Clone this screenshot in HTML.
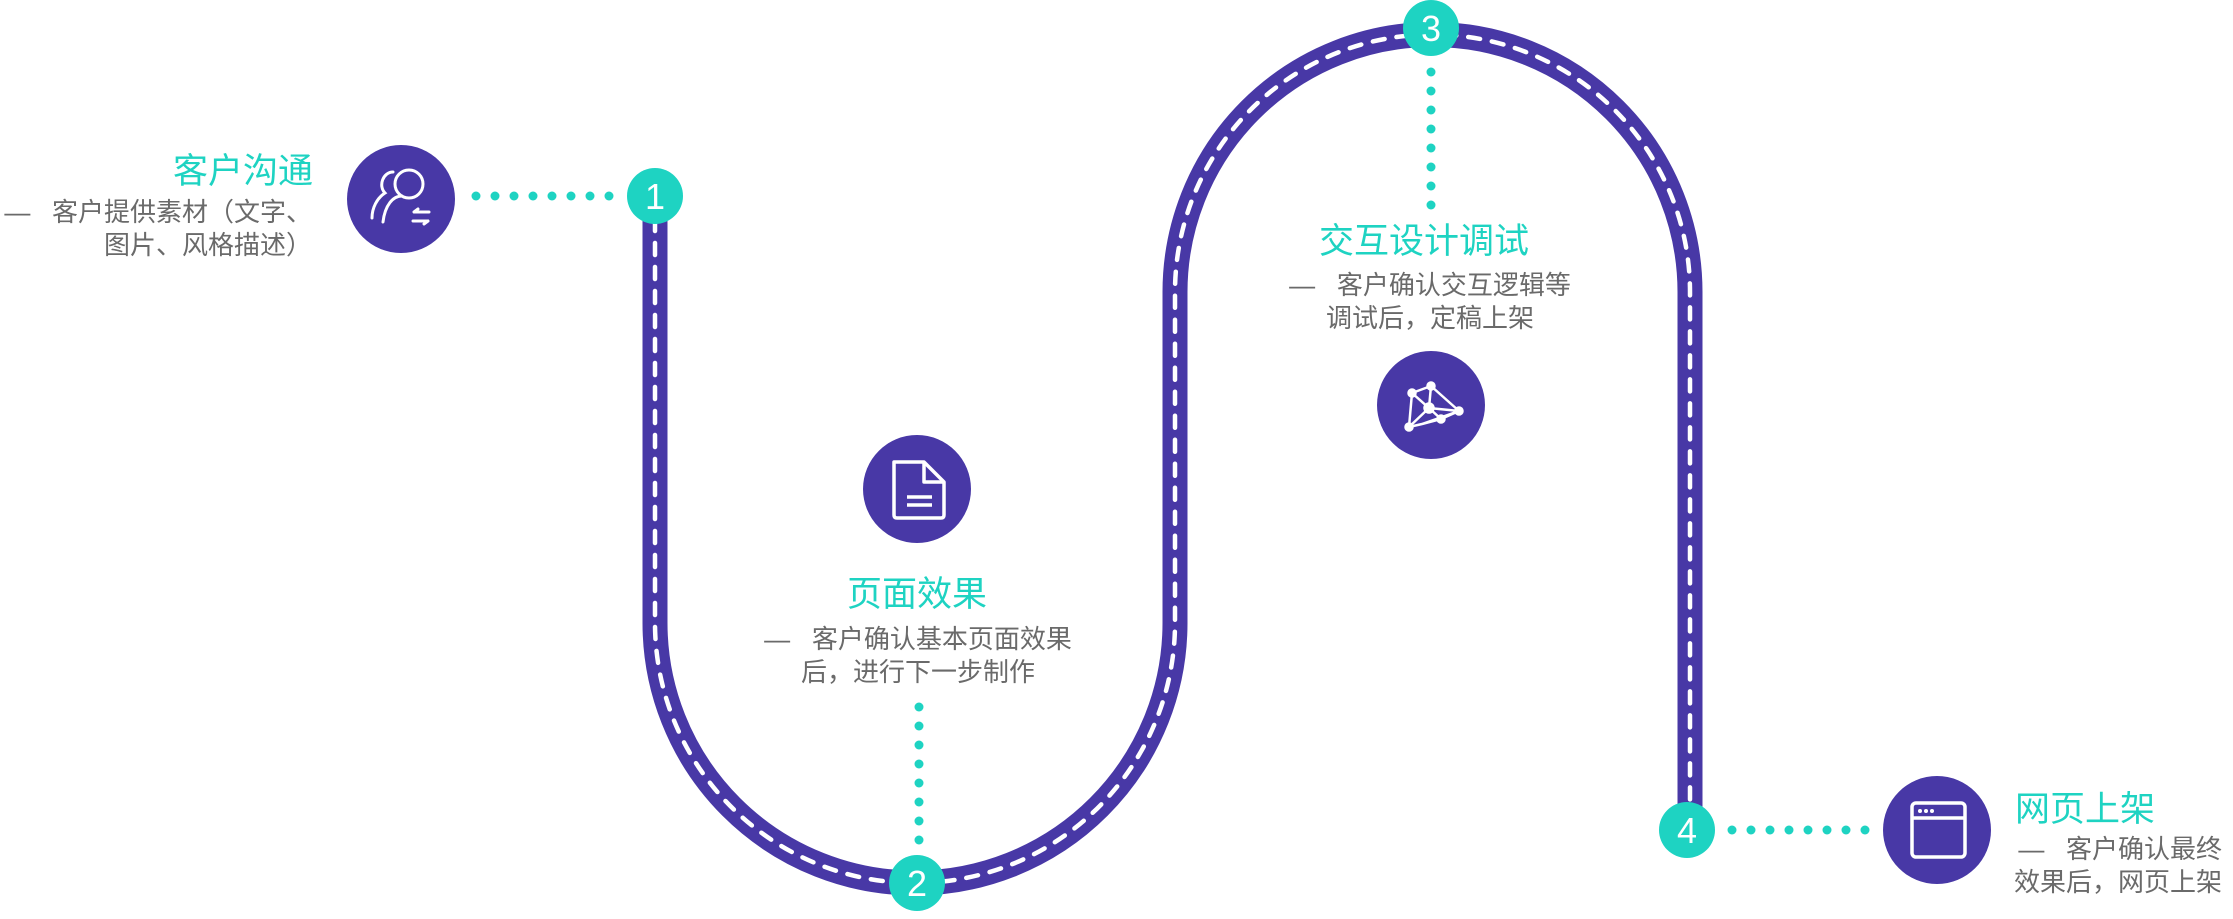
<!DOCTYPE html>
<html><head><meta charset="utf-8">
<style>
html,body{margin:0;padding:0;background:#fff;}
body{width:2233px;height:919px;position:relative;overflow:hidden;font-family:"Liberation Sans","Noto Sans CJK SC",sans-serif;}
.t{position:absolute;color:#1ed3c2;font-size:35px;line-height:40px;white-space:nowrap;}
.s{position:absolute;color:#6a6a6a;font-size:26px;line-height:33px;white-space:nowrap;}
svg{position:absolute;left:0;top:0;}
</style></head><body>
<svg width="2233" height="919" viewBox="0 0 2233 919">
  <path d="M655,195 L655,623 A260,260 0 0 0 1175,623 L1175,292 A257.5,257.5 0 0 1 1690,292 L1690,830" fill="none" stroke="#4838a6" stroke-width="25"/>
  <path d="M655,195 L655,623 A260,260 0 0 0 1175,623 L1175,292 A257.5,257.5 0 0 1 1690,292 L1690,830" fill="none" stroke="#fff" stroke-width="4.5" stroke-dasharray="12 12" stroke-linecap="round"/>
  <g fill="#1ed3c2">
    <circle cx="476" cy="196" r="4.5"/><circle cx="495" cy="196" r="4.5"/><circle cx="514" cy="196" r="4.5"/><circle cx="533" cy="196" r="4.5"/><circle cx="552" cy="196" r="4.5"/><circle cx="571" cy="196" r="4.5"/><circle cx="590" cy="196" r="4.5"/><circle cx="609" cy="196" r="4.5"/>
    <circle cx="919" cy="707" r="4.5"/><circle cx="919" cy="726" r="4.5"/><circle cx="919" cy="745" r="4.5"/><circle cx="919" cy="764" r="4.5"/><circle cx="919" cy="783" r="4.5"/><circle cx="919" cy="802" r="4.5"/><circle cx="919" cy="821" r="4.5"/><circle cx="919" cy="840" r="4.5"/>
    <circle cx="1431" cy="72" r="4.5"/><circle cx="1431" cy="91" r="4.5"/><circle cx="1431" cy="110" r="4.5"/><circle cx="1431" cy="129" r="4.5"/><circle cx="1431" cy="148" r="4.5"/><circle cx="1431" cy="167" r="4.5"/><circle cx="1431" cy="186" r="4.5"/><circle cx="1431" cy="205" r="4.5"/>
    <circle cx="1732" cy="830" r="4.5"/><circle cx="1751" cy="830" r="4.5"/><circle cx="1770" cy="830" r="4.5"/><circle cx="1789" cy="830" r="4.5"/><circle cx="1808" cy="830" r="4.5"/><circle cx="1827" cy="830" r="4.5"/><circle cx="1846" cy="830" r="4.5"/><circle cx="1865" cy="830" r="4.5"/>
  </g>
  <g fill="#1ed3c2">
    <circle cx="655" cy="196" r="28"/><circle cx="917" cy="883" r="28"/><circle cx="1431" cy="28" r="28"/><circle cx="1687" cy="830" r="28"/>
  </g>
  <g fill="#fff" font-family="Liberation Sans, sans-serif" font-size="36" text-anchor="middle">
    <text x="655" y="209">1</text><text x="917" y="896">2</text><text x="1431" y="41">3</text><text x="1687" y="843">4</text>
  </g>
  <g fill="#4838a6">
    <circle cx="401" cy="199" r="54"/><circle cx="917" cy="489" r="54"/><circle cx="1431" cy="405" r="54"/><circle cx="1937" cy="830" r="54"/>
  </g>
  <g fill="none" stroke="#fff" stroke-width="3" stroke-linecap="round">
    <circle cx="409" cy="184" r="14"/>
    <path d="M383,222 C385,205 393,196 402,196"/>
    <path d="M393,172 C383,172 378,186 385,193 C377,198 372,208 372,218"/>
    <path d="M414,212 H429 M414,212 l4,-3 M413,221 H428 M428,221 l-4,3"/>
  </g>
  <g fill="none" stroke="#fff" stroke-width="3.5" stroke-linejoin="round">
    <path d="M894,462 H924 L944,482 V515 Q944,518 941,518 H897 Q894,518 894,515 Z"/>
    <path d="M924,462 V482 H944"/>
    <path d="M907,497 H932 M907,505 H932"/>
  </g>
  <g stroke="#fff" stroke-width="2.5" fill="#fff">
    <path d="M1412,393 L1431,386 L1459,411 L1422,424 L1409,427 Z M1412,393 L1429,408 L1431,386 M1429,408 L1459,411 M1429,408 L1409,427 M1429,408 L1441,419 L1459,411 M1422,424 L1441,419" fill="none"/>
    <circle cx="1412" cy="393" r="3.5"/><circle cx="1431" cy="386" r="3.5"/><circle cx="1459" cy="411" r="3.5"/><circle cx="1429" cy="408" r="4.5"/><circle cx="1441" cy="419" r="3.5"/><circle cx="1409" cy="427" r="3.5"/>
  </g>
  <g fill="none" stroke="#fff" stroke-width="3.5">
    <rect x="1912" y="803" width="53" height="54" rx="4"/>
    <path d="M1912,818 H1965"/>
  </g>
  <g fill="#fff"><circle cx="1920" cy="811" r="2"/><circle cx="1926" cy="811" r="2"/><circle cx="1932" cy="811" r="2"/></g>
</svg>

<div class="t" style="left:173px;top:152px;">客户沟通</div>
<div class="s" style="right:1921px;top:196px;text-align:right;">—&nbsp;&nbsp; 客户提供素材（文字、<br>图片、风格描述）</div>

<div class="t" style="left:847px;top:575px;">页面效果</div>
<div class="s" style="left:718px;top:623px;width:400px;text-align:center;">—&nbsp;&nbsp; 客户确认基本页面效果<br>后，进行下一步制作</div>

<div class="t" style="left:1319px;top:222px;">交互设计调试</div>
<div class="s" style="left:1230px;top:269px;width:400px;text-align:center;">—&nbsp;&nbsp; 客户确认交互逻辑等<br>调试后，定稿上架</div>

<div class="t" style="left:2015px;top:790px;">网页上架</div>
<div class="s" style="right:11px;top:833px;text-align:right;">—&nbsp;&nbsp; 客户确认最终<br>效果后，网页上架</div>
</body></html>
